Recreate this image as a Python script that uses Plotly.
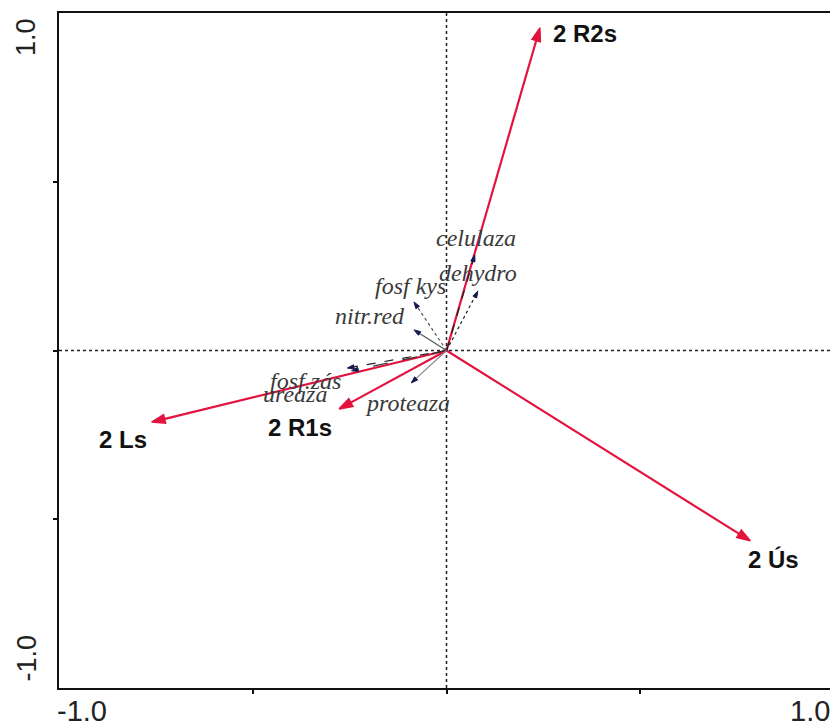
import plotly.graph_objects as go

# ---- data ----
species = ["2 R2s", "2 Ls", "2 R1s", "2 Ús"]
species_x = [0.241, -0.761, -0.277, 0.784]
species_y = [0.956, -0.212, -0.173, -0.564]

env_vars = ["celulaza", "dehydro", "fosf kys", "nitr.red", "fosf.zás", "ureaza", "proteaza"]
env_x = [0.073, 0.081, -0.084, -0.084, -0.256, -0.245, -0.091]
env_y = [0.283, 0.176, 0.144, 0.061, -0.052, -0.060, -0.096]

axis_range = [-1.0, 1.0]
edge_tick_labels = ["-1.0", "1.0"]
tick_vals = [-0.5, 0.0, 0.5]

# ---- styles ----
RED = "#e3123e"
NAVY = "#141850"
species_label_shift = [(11, -6, "left"), (-29, -17, "center"), (-39, -19, "center"), (23, -19, "center")]
env_label_shift = [(1, 17), (0, 18), (-3, 16), (-44, 14), (-42, -13), (-57, -23), (-4, -20)]
env_dash = ["dash", "dot", "dot", "solid", "dash", "longdash", "solid"]
env_color = ["#222", "#222", "#555", "#555", "#222", "#333", "#888"]

fig = go.Figure()

for i, name in enumerate(species):
    fig.add_trace(go.Scatter(
        x=[0, species_x[i]], y=[0, species_y[i]], mode="lines+markers",
        line=dict(color=RED, width=2.2),
        marker=dict(symbol=["circle", "arrow"], size=[0, 14], color=RED, opacity=1,
                    line=dict(color=RED, width=1.5),
                    angleref="previous", standoff=0),
        hoverinfo="skip", showlegend=False))

for i, name in enumerate(env_vars):
    fig.add_trace(go.Scatter(
        x=[0, env_x[i]], y=[0, env_y[i]], mode="lines+markers",
        line=dict(color=env_color[i], width=1.2, dash=env_dash[i]),
        marker=dict(symbol=["circle", "arrow"], size=[0, 7], color=NAVY, opacity=1,
                    line=dict(color=NAVY, width=1),
                    angleref="previous"),
        hoverinfo="skip", showlegend=False))

annotations = []
for i, name in enumerate(species):
    dx, dy, anchor = species_label_shift[i]
    annotations.append(dict(x=species_x[i], y=species_y[i], text="<b>%s</b>" % name,
                            showarrow=False, xshift=dx, yshift=dy, xanchor=anchor,
                            font=dict(family="Liberation Sans, Arial", size=24, color="#111")))
for i, name in enumerate(env_vars):
    dx, dy = env_label_shift[i]
    annotations.append(dict(x=env_x[i], y=env_y[i], text="<i>%s</i>" % name,
                            showarrow=False, xshift=dx, yshift=dy,
                            font=dict(family="Liberation Serif, Times New Roman", size=24, color="#3a3a3a")))

# axis edge labels (placed inward like the original)
tick_font = dict(family="Liberation Sans, Arial", size=29, color="#222")
ytick_font = dict(family="Liberation Sans, Arial", size=27, color="#222")
annotations += [
    dict(x=0, y=0, xref="paper", yref="paper", text=edge_tick_labels[0], showarrow=False,
         xanchor="left", yanchor="top", yshift=-5, xshift=-4, font=tick_font),
    dict(x=1, y=0, xref="paper", yref="paper", text=edge_tick_labels[1], showarrow=False,
         xanchor="right", yanchor="top", yshift=-5, xshift=-2, font=tick_font),
    dict(x=0, y=0, xref="paper", yref="paper", text=edge_tick_labels[0], showarrow=False,
         textangle=-90, xanchor="right", yanchor="bottom", xshift=-16, yshift=4, font=ytick_font),
    dict(x=0, y=1, xref="paper", yref="paper", text=edge_tick_labels[1], showarrow=False,
         textangle=-90, xanchor="right", yanchor="top", xshift=-16, yshift=-3, font=ytick_font),
]

shapes = [
    dict(type="line", xref="x", yref="paper", x0=0, x1=0, y0=0, y1=1,
         line=dict(color="#222", width=1.5, dash="dot"), layer="below"),
    dict(type="line", xref="paper", yref="y", x0=0, x1=1, y0=0, y1=0,
         line=dict(color="#222", width=1.5, dash="dot"), layer="below"),
]

axis_common = dict(range=axis_range, showgrid=False, zeroline=False, showline=True,
                   linecolor="#111", linewidth=2, mirror=True, ticks="outside",
                   ticklen=4, tickwidth=1.5, tickcolor="#111", tickvals=tick_vals,
                   showticklabels=False)

# page body has an 8px default margin, so the figure is sized to fit the window
fig.update_layout(
    width=830, height=719,
    margin=dict(l=51, r=2, t=5, b=39),
    plot_bgcolor="white", paper_bgcolor="white",
    xaxis=axis_common, yaxis=axis_common,
    annotations=annotations, shapes=shapes,
)

fig.write_html("out.html")
